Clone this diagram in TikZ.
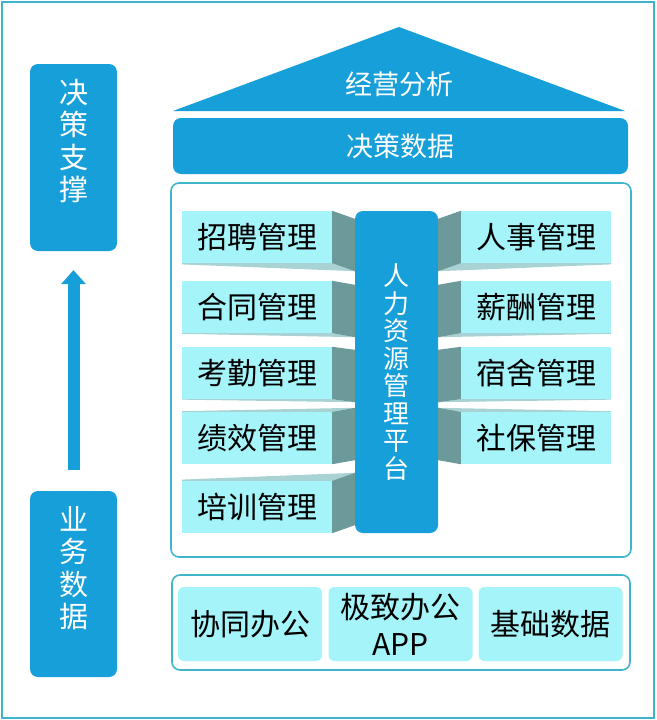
\documentclass[tikz,border=0pt]{standalone}
\usepackage{fontspec}
\newfontfamily\cjk{Noto Sans CJK SC}
\usetikzlibrary{arrows.meta,calc,positioning}
\definecolor{hrblue}{HTML}{169FD9}
\definecolor{framecyan}{HTML}{3FB5CB}
\definecolor{modcyan}{HTML}{A4F4FA}
\definecolor{modside}{HTML}{6C9A9B}
\definecolor{modshade}{HTML}{A8D2D3}

\begin{document}
\begin{tikzpicture}[x=1pt,y=-1pt,
  blueblock/.style={fill=hrblue,rounded corners=8pt,inner sep=0pt},
  whitetxt/.style={text=white,inner sep=0pt,align=center,
                   font=\cjk\fontsize{27}{30.5}\selectfont},
  module/.style={fill=modcyan,minimum width=150pt,minimum height=52pt,inner sep=0pt,
                 text=black,font=\cjk\fontsize{30}{37}\selectfont},
  basebox/.style={module,rounded corners=6pt,minimum width=144pt,minimum height=74pt,align=center},
  panel/.style={draw=framecyan,line width=1.6pt,rounded corners=8pt,inner sep=0pt}]

  \useasboundingbox (0,0) rectangle (656,720);
  \draw[framecyan,line width=2pt,fill=white] (2,2) rectangle (654,718); % outer border

  % left column
  \node[blueblock,minimum width=87pt,minimum height=187pt] (support) at (73.5,157.5) {};
  \node[whitetxt,font=\cjk\fontsize{29}{32.5}\selectfont,below=15pt of support.north]
    (supporttxt) {决\\策\\支\\撑};
  \node[blueblock,minimum width=87pt,minimum height=186pt] (bizdata) at (73.5,584) {};
  \node[whitetxt,font=\cjk\fontsize{29}{32.5}\selectfont,below=15pt of bizdata.north]
    (bizdatatxt) {业\\务\\数\\据};
  \draw[hrblue,line width=12pt,-{Triangle[width=25pt,length=14pt,line width=0pt]},
        shorten <=21pt,shorten >=19pt] (bizdata) -- (support);

  % roof and decision data
  \fill[hrblue] (173,111) -- (399,27) -- (625,111) -- cycle;
  \node[whitetxt] (roof) at (399,84) {经营分析};
  \node[blueblock,whitetxt,minimum width=455pt,minimum height=56pt] (decision)
    at (400.5,146) {决策数据};

  % platform with its modules
  \node[panel,minimum width=460pt,minimum height=374pt] (core) at (401,370) {};
  \node[blueblock,whitetxt,font=\cjk\fontsize{26}{27.5}\selectfont,
        minimum width=83pt,minimum height=322pt] (pillar) at (396.5,372)
    {人\\力\\资\\源\\管\\理\\平\\台};
  \foreach \name/\txt/\x/\y/\dy/\face/\near/\far in {
      hire/招聘管理/257/237/8/south/east/west,
      contract/合同管理/257/307/4/south/east/west,
      attend/考勤管理/257/373/3/south/east/west,
      perf/绩效管理/257/438/-4/north/east/west,
      train/培训管理/257/507/-8/north/east/west,
      staff/人事管理/536/237/8/south/west/east,
      salary/薪酬管理/536/307/4/south/west/east,
      dorm/宿舍管理/536/373/3/south/west/east,
      social/社保管理/536/438/-4/north/west/east}{
    \node[module] (\name) at (\x,\y) {\txt};
    \fill[modshade] (\name.\face -| \name.\far) -- (\name.\face -| \name.\near)
      -- ($(\name.\face -| pillar.\far)+(0,\dy)$)
      -- ($(\name.\face -| \name.\far)+(0,\dy*0.15)$) -- cycle;
    \fill[modside] (\name.north -| \name.\near) -- ($(\name.north -| pillar.\far)+(0,\dy)$)
      -- ($(\name.south -| pillar.\far)+(0,\dy)$) -- (\name.south -| \name.\near) -- cycle;
  }

  % base row
  \node[panel,minimum width=458pt,minimum height=95pt] (base) at (401,622.5) {};
  \node[basebox] (collab) at (250,624) {协同办公};
  \node[basebox] (mobile) at (400.5,624) {极致办公\\APP};
  \node[basebox] (basic) at (550.5,624) {基础数据};
\end{tikzpicture}
\end{document}
